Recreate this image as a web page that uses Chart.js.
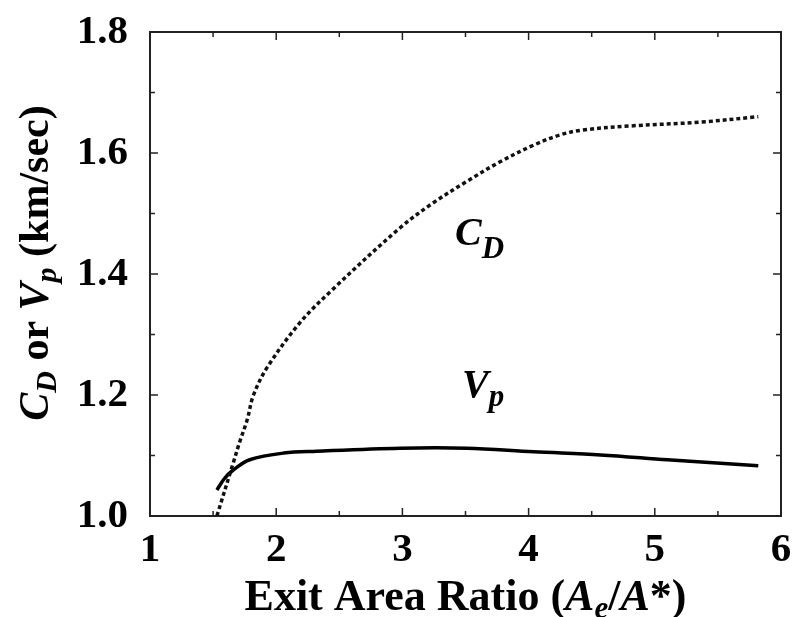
<!DOCTYPE html>
<html>
<head>
<meta charset="utf-8">
<script src="https://cdn.jsdelivr.net/npm/chart.js@4/dist/chart.umd.min.js"></script>
<style>
  html, body { margin: 0; padding: 0; background: #ffffff; }
  #wrap { width: 794px; height: 617px; position: relative; }
</style>
</head>
<body>
<div id="wrap"><canvas id="c" width="794" height="617"></canvas></div>
<script>
// Discharge coefficient C_D versus exit area ratio
const cdRatio = [1.53, 1.66, 1.71, 1.77, 1.82, 1.93, 2.19, 2.45, 2.98, 3.24, 3.51, 3.77, 4.04, 4.25, 4.43, 4.83, 5.36, 5.82];
const cdValue = [1.000, 1.088, 1.122, 1.159, 1.200, 1.246, 1.320, 1.375, 1.476, 1.517, 1.553, 1.585, 1.613, 1.630, 1.638, 1.645, 1.651, 1.660];

// Particle velocity V_p (km/sec) versus exit area ratio
const vpRatio = [1.53, 1.59, 1.66, 1.79, 2.06, 2.32, 2.98, 3.51, 4.04, 4.57, 5.10, 5.82];
const vpValue = [1.043, 1.062, 1.076, 1.093, 1.104, 1.107, 1.112, 1.112, 1.106, 1.101, 1.093, 1.083];

// Axis ticks
const xTicks = [1, 2, 3, 4, 5, 6];
const yTicks = [1.0, 1.2, 1.4, 1.6, 1.8];

const SERIF = '"Liberation Serif", "DejaVu Serif", serif';

function toPoints(xs, ys) { return xs.map((x, i) => ({ x: x, y: ys[i] })); }

// Draw a run of differently styled text pieces (used for subscripts/italics)
function drawRuns(ctx, runs, x, y, align) {
  let total = 0;
  runs.forEach(r => { ctx.font = r.font; r.w = ctx.measureText(r.text).width; total += r.w; });
  let cx = align === 'center' ? x - total / 2 : x;
  runs.forEach(r => {
    ctx.font = r.font;
    ctx.fillText(r.text, cx, y + (r.dy || 0));
    cx += r.w;
  });
}

const framePlugin = {
  id: 'frame',
  beforeDatasetsDraw(chart) {
    const ctx = chart.ctx;
    const a = chart.chartArea;
    const xs = chart.scales.x, ys = chart.scales.y;
    ctx.save();
    ctx.strokeStyle = '#222';
    ctx.lineWidth = 2;
    ctx.strokeRect(a.left, a.top, a.right - a.left, a.bottom - a.top);
    ctx.lineWidth = 1.5;
    ctx.beginPath();
    // x ticks every 0.5, major on integers, pointing inward on bottom and top
    for (let v = xs.min; v <= xs.max + 1e-9; v += 0.5) {
      const px = xs.getPixelForValue(v);
      const len = Math.abs(v - Math.round(v)) < 1e-6 ? 8 : 5;
      ctx.moveTo(px, a.bottom); ctx.lineTo(px, a.bottom - len);
      ctx.moveTo(px, a.top); ctx.lineTo(px, a.top + len);
    }
    // y ticks every 0.1, major every 0.2, on left and right
    for (let k = 0; k <= 8; k++) {
      const v = ys.min + k * 0.1;
      const py = ys.getPixelForValue(v);
      const len = k % 2 === 0 ? 8 : 5;
      ctx.moveTo(a.left, py); ctx.lineTo(a.left + len, py);
      ctx.moveTo(a.right, py); ctx.lineTo(a.right - len, py);
    }
    ctx.stroke();
    ctx.restore();
  },
  afterDraw(chart) {
    const ctx = chart.ctx;
    const a = chart.chartArea;
    const xs = chart.scales.x, ys = chart.scales.y;
    ctx.save();
    ctx.fillStyle = '#000';
    ctx.textBaseline = 'alphabetic';
    ctx.textAlign = 'left';
    const big = 'bold 42px ' + SERIF;
    const bigI = 'italic bold 42px ' + SERIF;
    const sub = 'italic bold 30px ' + SERIF;

    // x axis title
    const xt = 'bold 44px ' + SERIF;
    const xtI = 'italic bold 44px ' + SERIF;
    drawRuns(ctx, [
      { text: 'Exit Area Ratio (', font: xt },
      { text: 'A', font: xtI },
      { text: 'e', font: 'italic bold 31px ' + SERIF, dy: 8 },
      { text: '/', font: xt },
      { text: 'A', font: xtI },
      { text: '*)', font: xt }
    ], (a.left + a.right) / 2, 610, 'center');

    // y axis title, rotated
    ctx.save();
    ctx.translate(48, 263);
    ctx.rotate(-Math.PI / 2);
    drawRuns(ctx, [
      { text: 'C', font: bigI },
      { text: 'D', font: sub, dy: 8 },
      { text: ' or ', font: big },
      { text: 'V', font: bigI },
      { text: 'p', font: sub, dy: 8 },
      { text: ' (km/sec)', font: big }
    ], 0, 0, 'center');
    ctx.restore();

    // curve labels
    const lab = 'italic bold 40px ' + SERIF;
    const labSub = 'italic bold 31px ' + SERIF;
    drawRuns(ctx, [
      { text: 'C', font: lab },
      { text: 'D', font: labSub, dy: 13 }
    ], xs.getPixelForValue(3.417), ys.getPixelForValue(1.448), 'left');
    drawRuns(ctx, [
      { text: 'V', font: lab },
      { text: 'p', font: labSub, dy: 9 }
    ], xs.getPixelForValue(3.472), ys.getPixelForValue(1.197), 'left');
    ctx.restore();
  }
};

new Chart(document.getElementById('c'), {
  type: 'scatter',
  data: {
    datasets: [
      {
        label: 'C_D',
        data: toPoints(cdRatio, cdValue),
        showLine: true,
        borderColor: '#111',
        borderWidth: 3.5,
        borderDash: [4, 3],
        borderCapStyle: 'butt',
        pointRadius: 0,
        tension: 0.35,
        fill: false
      },
      {
        label: 'V_p',
        data: toPoints(vpRatio, vpValue),
        showLine: true,
        borderColor: '#000',
        borderWidth: 3.5,
        pointRadius: 0,
        tension: 0.35,
        fill: false
      }
    ]
  },
  options: {
    responsive: false,
    animation: false,
    events: [],
    layout: { padding: { top: 32, right: 13, left: 0, bottom: 0 } },
    plugins: { legend: { display: false }, tooltip: { enabled: false } },
    scales: {
      x: {
        type: 'linear',
        min: 1, max: 6,
        afterFit(s) { s.height = 101; s.paddingLeft = 0; s.paddingRight = 0; },
        afterBuildTicks(s) { s.ticks = xTicks.map(v => ({ value: v })); },
        grid: { display: false, drawTicks: false },
        border: { display: false },
        ticks: {
          padding: 10,
          maxRotation: 0,
          color: '#000',
          font: { family: SERIF, size: 41, weight: 'bold' },
          callback: v => String(v)
        }
      },
      y: {
        type: 'linear',
        min: 1.0, max: 1.8,
        afterFit(s) { s.width = 150; s.paddingTop = 0; s.paddingBottom = 0; },
        afterBuildTicks(s) { s.ticks = yTicks.map(v => ({ value: v })); },
        grid: { display: false, drawTicks: false },
        border: { display: false },
        ticks: {
          padding: 22,
          color: '#000',
          font: { family: SERIF, size: 41, weight: 'bold' },
          callback: v => Number(v).toFixed(1)
        }
      }
    }
  },
  plugins: [framePlugin]
});
</script>
</body>
</html>
